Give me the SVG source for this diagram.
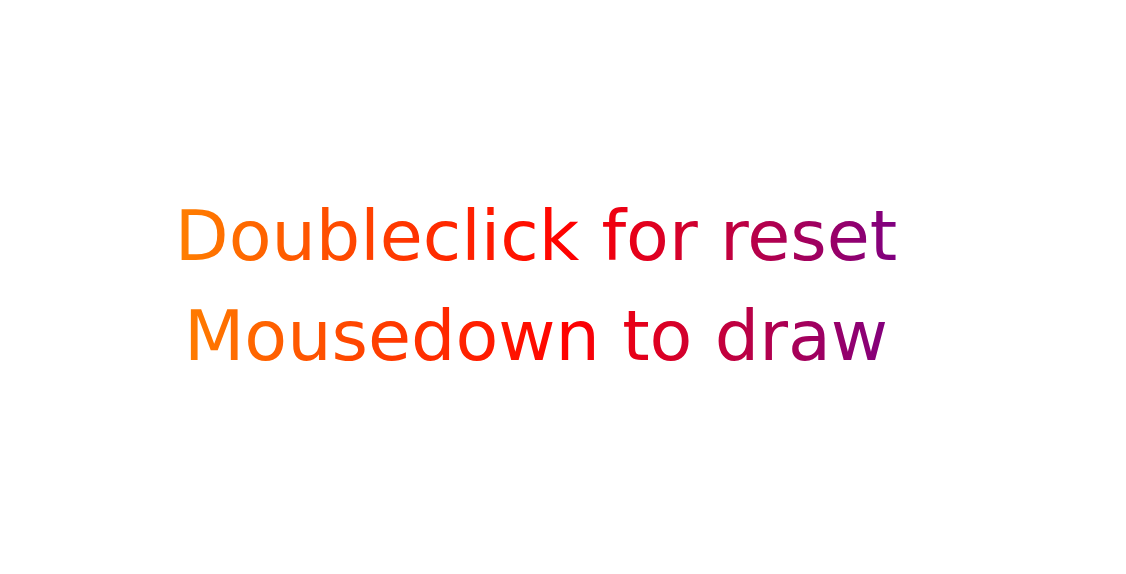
<svg xmlns="http://www.w3.org/2000/svg" width="1126" height="574" viewBox="0 0 1126 574">
<defs>
<linearGradient id="g" gradientUnits="userSpaceOnUse" x1="177" y1="0" x2="895" y2="0">
<stop offset="0" stop-color="#ff7f00"/>
<stop offset="0.55" stop-color="#ff0000"/>
<stop offset="1" stop-color="#800080"/>
</linearGradient>
<style>
.t{font-family:"DejaVu Sans",sans-serif;font-size:70px;fill:url(#g);text-anchor:middle}
</style>
</defs>
<rect width="1126" height="574" fill="#ffffff"/>
<g id="line1"><text class="t" x="536" y="260">Doubleclick for reset</text></g>
<g id="line2"><text class="t" x="536" y="360">Mousedown to draw</text></g>
</svg>
